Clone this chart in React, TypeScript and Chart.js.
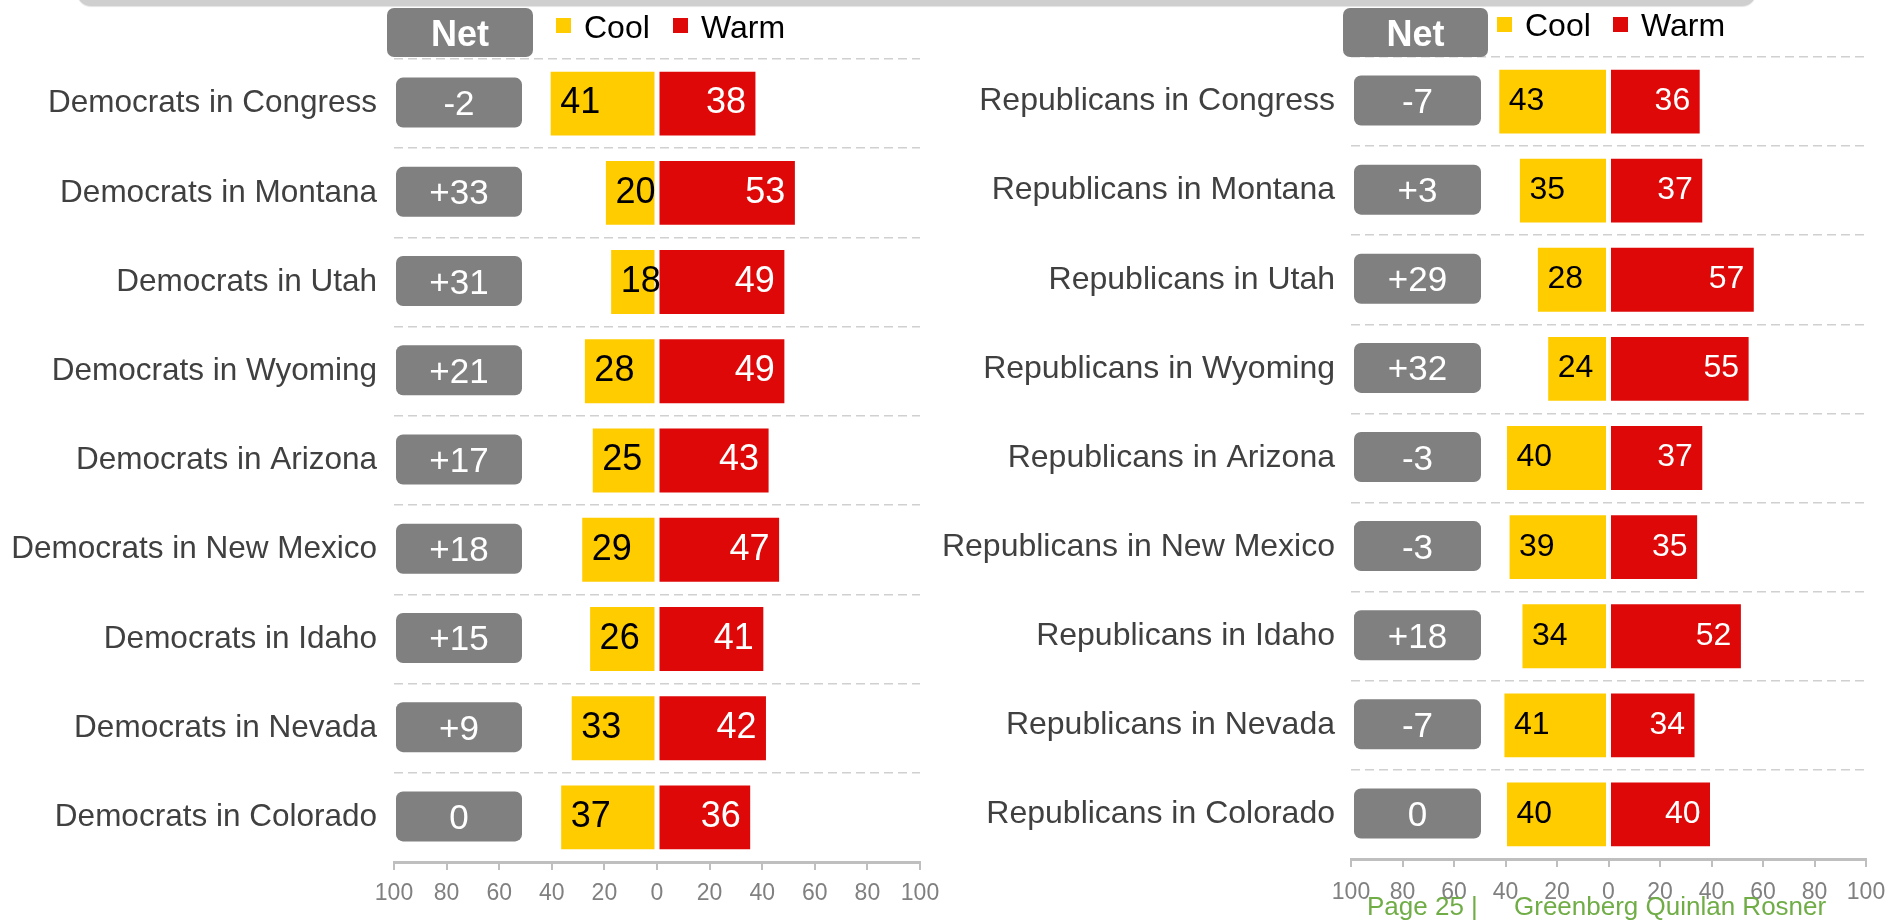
import React, { useEffect, useRef } from "react";
import { Chart, registerables } from "chart.js";

Chart.register(...registerables);

const FONT = "'Liberation Sans', Arial, sans-serif";

// ---------- data ----------
const seriesNames = ["Cool", "Warm"];
const netHeader = "Net";
const tickValues = [-100, -80, -60, -40, -20, 0, 20, 40, 60, 80, 100];

const demCategories = [
  "Democrats in Congress",
  "Democrats in Montana",
  "Democrats in Utah",
  "Democrats in Wyoming",
  "Democrats in Arizona",
  "Democrats in New Mexico",
  "Democrats in Idaho",
  "Democrats in Nevada",
  "Democrats in Colorado",
];
const demCool = [41, 20, 18, 28, 25, 29, 26, 33, 37];
const demWarm = [38, 53, 49, 49, 43, 47, 41, 42, 36];
const demNet = ["-2", "+33", "+31", "+21", "+17", "+18", "+15", "+9", "0"];

const repCategories = [
  "Republicans in Congress",
  "Republicans in Montana",
  "Republicans in Utah",
  "Republicans in Wyoming",
  "Republicans in Arizona",
  "Republicans in New Mexico",
  "Republicans in Idaho",
  "Republicans in Nevada",
  "Republicans in Colorado",
];
const repCool = [43, 35, 28, 24, 40, 39, 34, 41, 40];
const repWarm = [36, 37, 57, 55, 37, 35, 52, 34, 40];
const repNet = ["-7", "+3", "+29", "+32", "-3", "-3", "+18", "-7", "0"];

const footerPage = "Page 25 |";
const footerFirm = "Greenberg Quinlan Rosner";

// ---------- style ----------
const COOL = "#FFCC00";
const WARM = "#DE0808";
const GREY = "#808080";

type PanelCfg = {
  categories: string[];
  cool: number[];
  warm: number[];
  net: string[];
  canvasLeft: number;
  canvasWidth: number;
  yWidth: number;
  labelPad: number;
  labelSize: number;
  padTop: number;
  padRight: number;
  xHeight: number;
  tickPad: number;
  numSize: number;
  header: { dx: number; w: number; y: number; h: number; base: number };
  legend: { sq: number[]; sqY: number; base: number };
  netBox: { dx: number; w: number; h: number };
};

function roundRect(ctx: CanvasRenderingContext2D, x: number, y: number, w: number, h: number, r: number) {
  ctx.beginPath();
  ctx.moveTo(x + r, y);
  ctx.arcTo(x + w, y, x + w, y + h, r);
  ctx.arcTo(x + w, y + h, x, y + h, r);
  ctx.arcTo(x, y + h, x, y, r);
  ctx.arcTo(x, y, x + w, y, r);
  ctx.closePath();
}

function buildConfig(p: PanelCfg): any {
  const overlay = {
    id: "overlay",
    afterDatasetsDraw(chart: any) {
      const ctx: CanvasRenderingContext2D = chart.ctx;
      const area = chart.chartArea;
      const yScale = chart.scales.y;
      ctx.save();
      // bar value labels
      ctx.font = `${p.numSize}px ${FONT}`;
      ctx.textBaseline = "alphabetic";
      const cap = 0.358 * p.numSize;
      const coolMeta = chart.getDatasetMeta(0);
      const warmMeta = chart.getDatasetMeta(1);
      coolMeta.data.forEach((el: any, i: number) => {
        const v = Math.abs(chart.data.datasets[0].data[i]);
        ctx.fillStyle = "#000000";
        ctx.textAlign = "left";
        ctx.fillText(String(v), el.x + 11, el.y + cap - 3);
      });
      warmMeta.data.forEach((el: any, i: number) => {
        const v = chart.data.datasets[1].data[i];
        ctx.fillStyle = "#FFFFFF";
        ctx.textAlign = "right";
        ctx.fillText(String(v), el.x - 11, el.y + cap - 3);
      });
      // net boxes
      ctx.font = `35px ${FONT}`;
      ctx.textAlign = "center";
      p.net.forEach((t, i) => {
        const cy = yScale.getPixelForValue(i) - 1;
        const x = area.left + p.netBox.dx;
        roundRect(ctx, x, cy - p.netBox.h / 2, p.netBox.w, p.netBox.h, 7);
        ctx.fillStyle = GREY;
        ctx.fill();
        ctx.fillStyle = "#FFFFFF";
        ctx.fillText(t, x + p.netBox.w / 2, cy + 0.358 * 35);
      });
      // header box
      const hx = area.left + p.header.dx;
      roundRect(ctx, hx, p.header.y, p.header.w, p.header.h, 7);
      ctx.fillStyle = GREY;
      ctx.fill();
      ctx.font = `bold 36px ${FONT}`;
      ctx.fillStyle = "#FFFFFF";
      ctx.fillText(netHeader, hx + p.header.w / 2, p.header.base);
      // legend
      ctx.font = `32px ${FONT}`;
      ctx.textAlign = "left";
      chart.data.datasets.forEach((ds: any, i: number) => {
        const sx = area.left + p.legend.sq[i];
        ctx.fillStyle = ds.backgroundColor;
        ctx.fillRect(sx, p.legend.sqY, 15, 15);
        ctx.fillStyle = "#000000";
        ctx.fillText(ds.label, sx + 28, p.legend.base);
      });
      ctx.restore();
    },
  };

  const barStyle = {
    borderColor: "#FFFFFF",
    borderWidth: 1.5,
    borderSkipped: false,
    barPercentage: 0.75,
    categoryPercentage: 1,
  };

  return {
    type: "bar",
    data: {
      labels: p.categories,
      datasets: [
        { label: seriesNames[0], data: p.cool.map((v) => -v), backgroundColor: COOL, ...barStyle },
        { label: seriesNames[1], data: p.warm, backgroundColor: WARM, ...barStyle },
      ],
    },
    options: {
      indexAxis: "y",
      responsive: false,
      animation: false,
      layout: { padding: { top: p.padTop, right: p.padRight, bottom: 0, left: 0 } },
      plugins: { legend: { display: false }, tooltip: { enabled: false } },
      scales: {
        x: {
          type: "linear",
          stacked: true,
          min: -100,
          max: 100,
          afterBuildTicks: (s: any) => {
            s.ticks = tickValues.map((v) => ({ value: v }));
          },
          afterFit: (s: any) => {
            s.height = p.xHeight;
          },
          ticks: {
            callback: (v: any) => String(Math.abs(Number(v))),
            color: "#808080",
            font: { family: FONT, size: 23 },
            padding: p.tickPad,
            maxRotation: 0,
            autoSkip: false,
          },
          grid: { drawOnChartArea: false, drawTicks: true, tickLength: 8, color: "#BFBFBF", lineWidth: 2 },
          border: { display: true, color: "#BFBFBF", width: 3 },
        },
        y: {
          type: "category",
          stacked: true,
          offset: true,
          afterFit: (s: any) => {
            s.width = p.yWidth;
          },
          ticks: {
            color: "#404040",
            font: { family: FONT, size: p.labelSize },
            padding: p.labelPad,
            autoSkip: false,
          },
          grid: { offset: true, color: "#D0D0D0", lineWidth: 1.5, drawTicks: false },
          border: { display: false, dash: [9, 5] },
        },
      },
    },
    plugins: [overlay],
  };
}

const leftCfg: PanelCfg = {
  categories: demCategories,
  cool: demCool,
  warm: demWarm,
  net: demNet,
  canvasLeft: 0,
  canvasWidth: 952,
  yWidth: 394,
  labelPad: 17,
  labelSize: 31.5,
  padTop: 59,
  padRight: 32,
  xHeight: 58,
  tickPad: 10,
  numSize: 36,
  header: { dx: -7, w: 146, y: 8, h: 49, base: 46 },
  legend: { sq: [162, 279], sqY: 18, base: 38 },
  netBox: { dx: 2, w: 126, h: 50 },
};

const rightCfg: PanelCfg = {
  categories: repCategories,
  cool: repCool,
  warm: repWarm,
  net: repNet,
  canvasLeft: 880,
  canvasWidth: 1024,
  yWidth: 471,
  labelPad: 16,
  labelSize: 32,
  padTop: 57,
  padRight: 38,
  xHeight: 61,
  tickPad: 12,
  numSize: 32,
  header: { dx: -8, w: 145, y: 8, h: 49, base: 46 },
  legend: { sq: [146, 262], sqY: 17, base: 36 },
  netBox: { dx: 3, w: 127, h: 50 },
};

function Panel({ cfg }: { cfg: PanelCfg }) {
  const ref = useRef<HTMLCanvasElement>(null);
  useEffect(() => {
    const chart = new Chart(ref.current as HTMLCanvasElement, buildConfig(cfg));
    return () => chart.destroy();
  }, [cfg]);
  return (
    <canvas
      ref={ref}
      width={cfg.canvasWidth}
      height={920}
      style={{ position: "absolute", left: cfg.canvasLeft, top: 0, width: cfg.canvasWidth, height: 920 }}
    />
  );
}

export default function App() {
  return (
    <div
      style={{
        position: "absolute",
        left: 0,
        top: 0,
        width: 1904,
        height: 920,
        overflow: "hidden",
        background: "#FFFFFF",
        fontFamily: FONT,
      }}
    >
      <div
        style={{
          position: "absolute",
          left: 77,
          top: -30,
          width: 1679,
          height: 36,
          borderRadius: 14,
          background: "#CFCFCF",
          boxShadow: "0 1px 1px #E4E4E4",
        }}
      />
      <Panel cfg={leftCfg} />
      <Panel cfg={rightCfg} />
      <div
        style={{
          position: "absolute",
          left: 1367,
          top: 893,
          fontSize: 26,
          lineHeight: "26px",
          color: "#70AD47",
          whiteSpace: "nowrap",
        }}
      >
        {footerPage}
      </div>
      <div
        style={{
          position: "absolute",
          left: 1514,
          top: 893,
          fontSize: 26,
          lineHeight: "26px",
          color: "#70AD47",
          whiteSpace: "nowrap",
        }}
      >
        {footerFirm}
      </div>
    </div>
  );
}
